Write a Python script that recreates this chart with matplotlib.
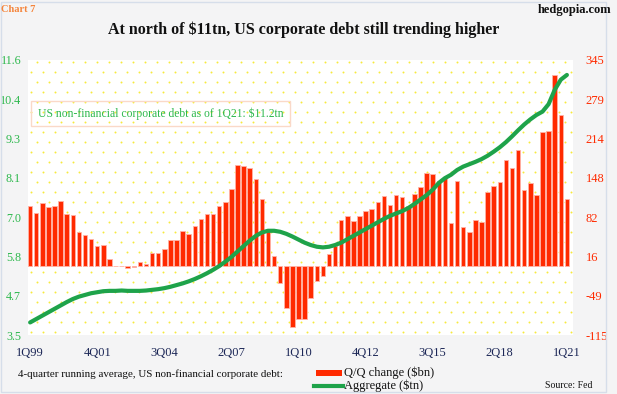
import matplotlib
matplotlib.use("Agg")
import matplotlib.pyplot as plt
import numpy as np
from matplotlib.patches import Rectangle
from matplotlib.lines import Line2D

# quarters 1Q99 .. 1Q21
years = range(1999, 2022)
quarters = [f"{q}Q{str(y)[2:]}" for y in years for q in range(1, 5)][:89]

# Q/Q change, 4-quarter running average ($bn) - right axis
qq_change = [100.8, 89.8, 106.5, 99.8, 100.8, 109.8, 87.5, 86.4, 58.0, 51.8,
             45.2, 34.0, 36.2, 12.3, 1.0, 0.8, -3.0, -1.2, 7.8, 4.5,
             22.0, 22.0, 29.0, 44.6, 43.5, 59.0, 54.0, 67.0, 78.6, 88.0,
             88.0, 101.5, 108.0, 129.0, 170.0, 168.0, 164.0, 146.6, 112.0, 63.0,
             16.7, -28.0, -69.0, -101.0, -89.0, -89.0, -53.0, -25.0, -17.0, 21.0,
             34.0, 78.0, 84.7, 75.8, 84.7, 93.0, 96.0, 107.0, 118.0, 102.5,
             118.7, 116.0, 101.0, 121.5, 132.0, 156.6, 154.0, 142.6, 147.6, 72.5,
             142.0, 65.8, 58.0, 78.0, 74.7, 124.0, 133.8, 141.0, 177.0, 165.0,
             194.4, 127.6, 139.0, 119.0, 224.0, 227.0, 320.0, 253.0, 112.0]

# aggregate debt ($tn) - left axis
aggregate = [3.87, 3.97, 4.07, 4.17, 4.27, 4.37, 4.47, 4.56, 4.63, 4.68,
             4.73, 4.76, 4.79, 4.80, 4.80, 4.81, 4.80, 4.80, 4.80, 4.81,
             4.83, 4.85, 4.88, 4.92, 4.97, 5.02, 5.08, 5.15, 5.23, 5.32,
             5.42, 5.53, 5.66, 5.80, 5.96, 6.12, 6.28, 6.42, 6.52, 6.57,
             6.57, 6.54, 6.48, 6.40, 6.31, 6.22, 6.15, 6.10, 6.08, 6.10,
             6.15, 6.22, 6.32, 6.42, 6.52, 6.62, 6.72, 6.82, 6.92, 7.01,
             7.08, 7.15, 7.24, 7.36, 7.49, 7.62, 7.78, 7.98, 8.12, 8.22,
             8.36, 8.46, 8.53, 8.60, 8.68, 8.78, 8.90, 9.03, 9.18, 9.35,
             9.53, 9.70, 9.85, 9.98, 10.08, 10.30, 10.72, 11.02, 11.16]

left_ticks = np.linspace(3.5, 11.6, 8)
right_ticks = np.linspace(-115, 345, 8)
tick_every = 11

RED = "#ff2a00"
GREEN = "#1ea34a"
LGREEN = "#2db84d"
SERIF = ["Liberation Serif", "DejaVu Serif"]
plt.rcParams["font.family"] = SERIF

fig = plt.figure(figsize=(6.17, 3.94), dpi=100, facecolor="#f4f4f5")
ax = fig.add_axes([28 / 617, 1 - 335 / 394, 545 / 617, 275 / 394])
ax.set_facecolor("white")

# yellow dotted background
w_px, h_px = 545, 275
pts = []
for r, yy in enumerate(np.arange(3, h_px, 10)):
    off = 0 if r % 2 == 0 else 6
    for xx in np.arange(3 + off, w_px, 12):
        pts.append((xx / w_px, yy / h_px))
pts = np.array(pts)
ax.scatter(pts[:, 0], pts[:, 1], s=2.0, color="#f7ea3c", transform=ax.transAxes,
           zorder=0, linewidths=0)

x = np.arange(len(quarters))
ax.bar(x, qq_change, width=0.74, color=RED, edgecolor="#ffb3a6", linewidth=0.6, zorder=2)
ax.set_ylim(-115, 345)
ax.set_xlim(-0.35, 89.0)
ax.set_xticks(x[::tick_every])
ax.set_xticklabels(quarters[::tick_every], color="#1c2757", fontsize=9)
ax.tick_params(axis="x", length=0, pad=9)

ax2 = ax.twinx()
ax2.plot(x, aggregate, color=GREEN, lw=3, solid_capstyle="round", zorder=3)
ax2.set_ylim(3.5, 11.6)
ax2.set_yticks(left_ticks)
ax2.set_yticklabels([f"{v:.1f}" for v in left_ticks], color=LGREEN, fontsize=8.7)
ax2.yaxis.tick_left()
ax2.tick_params(axis="y", length=0, pad=5)

# right axis for the bars (set after twinx, which moves ticks to the left)
ax.yaxis.tick_right()
ax.set_yticks(right_ticks)
ax.set_yticklabels([f"{v:.0f}" for v in right_ticks], color=RED, fontsize=9)
ax.tick_params(axis="y", length=0, pad=9)

for a in (ax, ax2):
    for s in a.spines.values():
        s.set_visible(False)

ax.text(0.018, 0.805, "US non-financial corporate debt as of 1Q21: $11.2tn",
        transform=ax.transAxes, color=LGREEN, fontsize=8.4, va="center",
        bbox=dict(boxstyle="square,pad=0.55", facecolor="none", edgecolor="#fad9c8", lw=1))

fig.text(0.002, 0.975, "Chart 7", color="#f5843a", fontsize=7.5, fontweight="bold", va="center")
fig.text(0.99, 0.975, "hedgopia.com", color="#111111", fontsize=9, fontweight="bold",
         ha="right", va="center")
fig.text(0.493, 0.924, "At north of $11tn, US corporate debt still trending higher",
         fontsize=11.5, fontweight="bold", ha="center", va="center", color="#111111")

fig.text(18 / 617, 1 - 374 / 394, "4-quarter running average, US non-financial corporate debt:",
         fontsize=7.9, va="center", color="#111111")
fig.add_artist(Rectangle((316 / 617, 1 - 376 / 394), 26 / 617, 6 / 394,
                         facecolor=RED, edgecolor="none", transform=fig.transFigure))
fig.add_artist(Line2D([314 / 617, 343 / 617], [1 - 386 / 394] * 2, color=GREEN, lw=3,
                      transform=fig.transFigure))
fig.text(344 / 617, 1 - 373 / 394, "Q/Q change ($bn)", fontsize=9, va="center", color="#111111")
fig.text(344 / 617, 1 - 386 / 394, "Aggregate ($tn)", fontsize=9, va="center", color="#111111")
fig.text(545 / 617, 1 - 386 / 394, "Source: Fed", fontsize=7, va="center", color="#111111")

fig.add_artist(Rectangle((0.002, 0.005), 605 / 617, 0.99, facecolor="none",
                         edgecolor="#d6deea", lw=1, transform=fig.transFigure))

fig.savefig("out.png", dpi=100, facecolor=fig.get_facecolor())
